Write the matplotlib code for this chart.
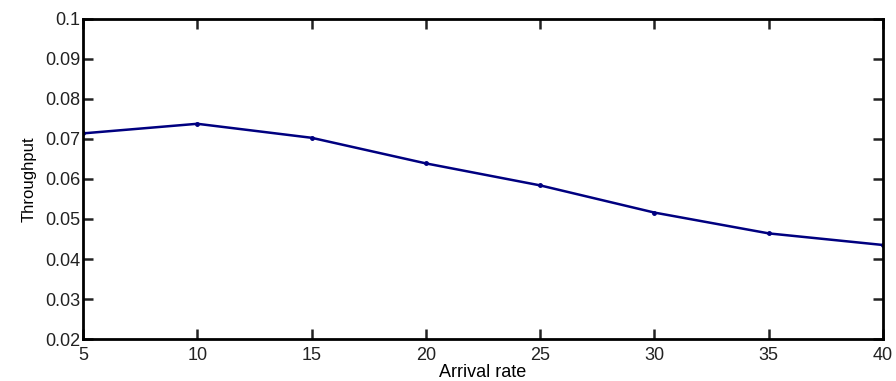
import numpy as np
import matplotlib.pyplot as plt

plt.rcParams['font.family'] = ['Liberation Sans', 'DejaVu Sans']

# arrival rate vs throughput
arrival = [5, 10, 15, 20, 25, 30, 35, 40]
throughput = [0.0714, 0.0738, 0.0703, 0.0639, 0.0584, 0.0516, 0.0464, 0.0435]

xticks = [5, 10, 15, 20, 25, 30, 35, 40]
yticks = [0.02, 0.03, 0.04, 0.05, 0.06, 0.07, 0.08, 0.09, 0.1]
ytick_labels = ['0.02', '0.03', '0.04', '0.05', '0.06', '0.07', '0.08', '0.09', '0.1']

fig = plt.figure(figsize=(8.96, 3.81), dpi=100)
ax = fig.add_axes([0.0926, 0.1102, 0.893, 0.840])

ax.plot(arrival, throughput, color='#000080', linewidth=1.8,
        marker='.', markersize=5)

ax.set_xlim(5, 40)
ax.set_ylim(0.02, 0.1)
ax.set_xticks(xticks)
ax.set_yticks(yticks)
ax.set_yticklabels(ytick_labels)

ax.tick_params(direction='in', length=7, width=1.8, top=True, right=True,
               labelsize=13, colors='#222222')
ax.tick_params(axis='x', pad=6)
ax.tick_params(axis='y', pad=2)
for sp in ax.spines.values():
    sp.set_linewidth(2)

ax.set_xlabel('Arrival rate', fontsize=13, labelpad=0)
ax.set_ylabel('Throughput', fontsize=12, labelpad=6)

fig.savefig('out.png', dpi=100)
